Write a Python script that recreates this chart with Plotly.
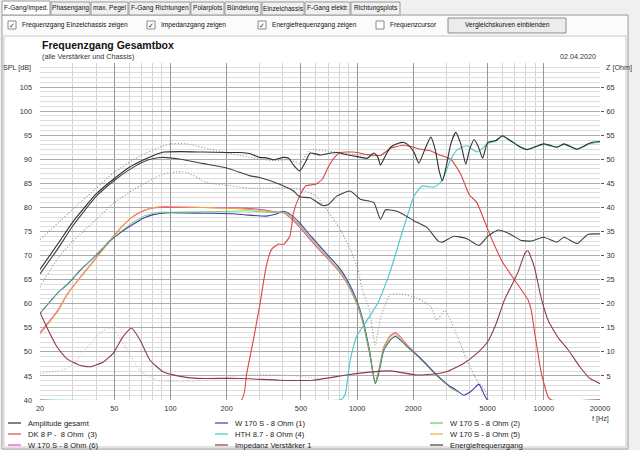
import math
import plotly.graph_objects as go

# ---------------- data ----------------
AMP_F = [20, 25, 30, 40, 50, 60, 70, 80, 92, 113, 150, 200, 236, 265, 300, 326, 356, 403, 430, 456,
         492, 530, 560, 634, 700, 780, 870, 959, 1050, 1132, 1228, 1290, 1333, 1420, 1510, 1650, 1781, 1900, 2020, 2140,
         2330, 2482, 2620, 2750, 2866, 3000, 3175, 3376, 3590, 3820, 4000, 4233, 4470, 4700, 5000, 5540, 6000, 6650, 7500, 8160,
         9000, 10000, 11000, 11800, 12800, 14000, 15100, 16200, 17200, 18500, 20000]
AMP_DB = [67.1, 72.5, 77.0, 82.8, 86.0, 88.3, 89.7, 90.7, 91.5, 91.6, 91.5, 91.4, 91.4, 91.2, 90.4, 90.3, 89.9, 90.4, 90.2, 88.8,
          87.6, 89.5, 91.3, 90.9, 91.2, 91.4, 91.0, 90.7, 90.4, 90.2, 91.3, 90.5, 88.8, 90.8, 92.5, 93.3, 93.5, 92.8, 91.4, 89.2,
          92.5, 94.6, 92.0, 87.6, 85.5, 88.5, 93.2, 95.6, 93.2, 89.0, 92.0, 94.1, 92.5, 90.2, 93.5, 93.9, 94.9, 93.8, 92.5, 92.0,
          92.6, 93.2, 92.8, 92.5, 93.2, 92.6, 92.1, 92.6, 93.2, 93.6, 93.7]

EN_F = [20, 25, 30, 40, 50, 60, 70, 80, 92, 113, 150, 200, 265, 300, 385, 456, 492, 560, 652, 700,
        780, 918, 1040, 1228, 1333, 1420, 1600, 1781, 2020, 2370, 2720, 2866, 3300, 3870, 4490, 5000, 5700, 6650, 7500, 8500,
        10000, 11800, 12800, 15100, 17200, 20000]
EN_DB = [66.2, 71.5, 76.2, 82.3, 85.6, 87.8, 89.3, 90.1, 90.4, 90.0, 89.1, 88.2, 86.6, 86.2, 84.8, 83.4, 82.2, 82.0, 80.4, 80.6,
         82.4, 83.4, 81.7, 81.0, 77.5, 79.5, 79.3, 78.5, 77.2, 75.8, 73.0, 72.8, 74.0, 73.5, 72.1, 74.0, 75.3, 74.4, 73.2, 73.0,
         73.8, 72.8, 73.8, 72.5, 74.4, 74.5]

HTH_F = [20, 800, 835, 864, 890, 918, 993, 1132, 1290, 1450, 1550, 1710, 1850, 2020, 2240, 2400, 2560, 2720, 2866, 3000,
         3175, 3445, 3870, 4380, 4700, 5000, 5540, 6000, 6650, 7500, 8160, 9000, 10000, 11800, 12800, 15100, 17200, 20000]
HTH_DB = [40, 40, 40.3, 41.3, 44.5, 48.3, 53.2, 56.6, 60.1, 65.0, 68.3, 73.8, 78.0, 82.4, 84.5, 84.3, 84.2, 84.8, 85.8, 87.6,
          90.0, 92.0, 92.8, 91.5, 92.3, 93.3, 93.8, 94.8, 93.9, 92.6, 92.1, 92.6, 93.1, 92.5, 93.1, 92.1, 93.1, 93.6]

DK_F = [20, 240, 256, 278, 300, 326, 348, 380, 403, 436, 456, 492, 532, 600, 652, 705, 760, 813, 959, 1132,
        1333, 1510, 1781, 2193, 2482, 2720, 3175, 3590, 3980, 4380, 4850, 5360, 6040, 7250, 8230, 8560, 8940, 9710, 10560, 11000,
        20000]
DK_DB = [40, 40, 45.5, 52.5, 59.4, 67.8, 71.3, 72.4, 72.3, 74.0, 78.9, 82.4, 84.5, 84.8, 85.9, 88.6, 90.5, 91.4, 91.5, 91.0,
         90.8, 92.3, 92.9, 92.1, 91.7, 91.0, 90.0, 86.9, 82.7, 81.0, 76.8, 72.7, 68.5, 64.0, 60.8, 58.7, 53.9, 45.5, 40.6, 40,
         40]

W1_F = [20, 25, 28, 33, 38.6, 47.3, 55, 63, 72, 81, 90, 100, 150, 215, 260, 326, 365, 403, 440, 492,
        560, 600, 700, 800, 877, 993, 1074, 1163, 1250, 1305, 1390, 1510, 1610, 1855, 2193, 2664, 3175, 3300, 3720, 4000,
        4230, 4490, 4770, 5000, 20000]
W1_DB = [58.0, 62.3, 64.0, 67.0, 69.5, 73.0, 75.0, 76.5, 77.8, 78.5, 78.8, 78.9, 78.8, 78.7, 78.4, 78.2, 78.6, 79.2, 78.5, 76.8,
         74.2, 72.9, 70.0, 67.5, 65.2, 60.8, 56.6, 50.4, 43.4, 45.5, 50.4, 52.5, 53.2, 51.1, 48.6, 45.2, 42.7, 42.4, 41.0, 41.6,
         42.4, 43.3, 41.3, 40, 40]

W2_F = [20, 25, 28, 33, 38.6, 47.3, 55, 63, 72, 81, 90, 100, 150, 215, 260, 326, 365, 403, 440, 492,
        560, 600, 700, 800, 877, 993, 1074, 1163, 1250, 1305, 1390, 1510, 1610, 1855, 2193, 2664, 3175, 3500]
W2_DB = [58.0, 62.3, 64.0, 67.0, 69.5, 73.0, 75.2, 76.9, 78.2, 78.8, 79.0, 79.0, 79.1, 79.2, 79.3, 79.0, 78.9, 79.0, 78.2, 76.4,
         73.8, 72.5, 69.6, 67.1, 64.8, 60.5, 56.4, 50.2, 43.5, 45.8, 50.6, 52.7, 53.4, 51.0, 48.4, 45.0, 42.5, 41.6]

W5_F = [20, 25, 28, 33, 38.6, 47.3, 55, 63, 72, 81, 90, 100, 150, 215, 300, 365, 403, 440, 492, 560,
        600, 700, 800, 877, 993, 1074, 1163, 1250, 1305, 1390, 1510, 1610, 1855, 2193, 2664, 3175, 3500]
W5_DB = [53.7, 58.5, 61.9, 65.5, 68.7, 73.0, 76.0, 78.2, 79.4, 80.0, 80.2, 80.2, 80.0, 79.8, 79.4, 79.0, 78.9, 78.0, 76.2, 73.6,
         72.3, 69.4, 66.9, 64.6, 60.3, 56.2, 50.0, 43.6, 46.0, 50.9, 53.2, 53.8, 51.3, 48.5, 45.1, 42.6, 41.7]
W6_F = W5_F
W6_DB = [54.0, 58.7, 62.0, 65.6, 68.8, 73.1, 76.0, 78.1, 79.3, 79.9, 80.0, 80.0, 80.0, 79.9, 79.6, 79.1, 78.9, 77.8, 75.9, 73.3,
         72.0, 69.2, 66.7, 64.4, 60.1, 56.0, 49.9, 43.6, 46.0, 51.0, 53.4, 54.0, 51.4, 48.6, 45.2, 42.6, 41.7]

IMP_F = [20, 21.7, 24.6, 27.8, 32.7, 37.1, 43.7, 49.3, 55.8, 61.9, 68.6, 77.6, 91.8, 112.8, 138, 208, 265, 385, 580, 877,
         1163, 1510, 2085, 2720, 3000, 3720, 4380, 5000, 5560, 6160, 7250, 7950, 8230, 8560, 8920, 9710, 10560, 12000, 13400, 15600,
         17500, 20000]
IMP_Z = [18.2, 15.2, 11.1, 8.6, 7.2, 6.9, 7.9, 9.7, 13.2, 14.9, 12.5, 8.3, 5.8, 4.9, 4.5, 4.5, 4.4, 4.1, 4.1, 5.2,
         5.8, 6.05, 5.2, 5.5, 5.85, 7.6, 9.7, 12.1, 15.9, 20.8, 26.4, 30.6, 31.0, 29.5, 27.5, 21.0, 16.5, 12.8, 10.6, 6.9,
         4.6, 3.4]

# comparison curves (dotted)
D1_F = [20, 30, 40, 50, 68.6, 90, 100, 122, 176, 265, 356, 430, 492, 530, 560, 652, 813, 959, 1132, 1250]
D1_DB = [73.3, 79.6, 84.0, 87.3, 90.7, 92.7, 93.2, 93.2, 91.8, 90.4, 89.7, 89.9, 89.2, 90.8, 92.0, 91.8, 91.4, 91.0, 90.8, 90.6]
D2_F = [20, 25, 30, 40, 50, 68.6, 90, 100, 122, 156, 208, 265, 400, 492, 600, 686, 813, 918, 1010, 1074,
        1163, 1250, 1340, 1510, 1710, 2085, 2482, 2664, 2960, 3445, 3870, 4380, 4850, 5000]
D2_DB = [63.5, 69.5, 73.0, 77.5, 81.0, 84.5, 86.8, 87.3, 87.3, 85.2, 84.5, 84.0, 84.0, 83.8, 82.4, 79.6, 75.4, 71.3, 67.1, 62.5,
         58.7, 51.4, 57.3, 61.9, 62.0, 61.2, 59.4, 56.6, 58.6, 53.2, 48.3, 44.1, 42.0, 40.5]
D3_F = [20, 27.8, 32.7, 40.3, 45.5, 49.3, 58.5, 68.6, 84.2, 113, 156, 208, 265, 400, 634]
D3_DB = [45.5, 46.5, 49.0, 53.2, 54.9, 54.8, 50.4, 46.2, 44.1, 43.8, 44.1, 44.8, 45.4, 45.2, 44.5]

X_TICKS = [20, 50, 100, 200, 500, 1000, 2000, 5000, 10000, 20000]
X_MINOR = [30, 40, 60, 70, 80, 90, 300, 400, 600, 700, 800, 900, 3000, 4000, 6000, 7000, 8000, 9000]
SPL_TICKS = list(range(40, 106, 5))
Z_TICKS = list(range(5, 66, 5))

LEGEND_NAMES = ["Amplitude gesamt", "W 170 S - 8 Ohm (1)", "W 170 S - 8 Ohm (2)",
                "DK 8 P -  8 Ohm  (3)", "HTH 8.7 - 8 Ohm (4)", "W 170 S - 8 Ohm (5)",
                "W 170 S - 8 Ohm (6)", "Impedanz Verstärker 1", "Energiefrequenzgang"]
LEGEND_COLORS = ["#2e2e2e", "#3c3cb0", "#5ad25a", "#dc4646", "#46c8c8", "#f0aa3c",
                 "#e646d2", "#8c3c4a", "#404040"]

TABS = ["F-Gang/Imped.", "Phasengang", "max. Pegel", "F-Gang Richtungen", "Polarplots",
        "Bündelung", "Einzelchassis", "F-Gang elektr.", "Richtungsplots"]
TAB_EDGES = [2, 51, 91, 129, 191, 225, 262, 305, 351, 401]
CHECKS = [("Frequenzgang Einzelchassis zeigen", True), ("Impedanzgang zeigen", True),
          ("Energiefrequenzgang zeigen", True), ("Frequenzcursor", False)]
CHECK_X = [8, 147, 258, 376]

# ---------------- layout helpers ----------------
W, H = 640, 450
ML, MR, MT, MB = 40, 40, 63, 50
PW, PH = W - ML - MR, H - MT - MB
FONT = "Liberation Sans"


def xp(px):
    return (px - ML) / PW


def yp(py):
    return (H - MB - py) / PH


annotations = []
shapes = []


def text(px, py, s, size=8, anchor="left", color="#111111", bold=False):
    annotations.append(dict(x=xp(px), y=yp(py), xref="paper", yref="paper",
                            text=("<b>%s</b>" % s) if bold else s, showarrow=False,
                            xanchor=anchor, yanchor="middle",
                            font=dict(size=size, color=color, family=FONT)))


def rect(x0, y0, x1, y1, fill, line="#a0a0a0", width=1, layer="below"):
    shapes.append(dict(type="rect", xref="paper", yref="paper",
                       x0=xp(x0), x1=xp(x1), y0=yp(y1), y1=yp(y0),
                       fillcolor=fill, line=dict(color=line, width=width), layer=layer))


def hline(x0, x1, py, color, width=1):
    shapes.append(dict(type="line", xref="paper", yref="paper",
                       x0=xp(x0), x1=xp(x1), y0=yp(py), y1=yp(py),
                       line=dict(color=color, width=width), layer="above"))


# window frame
rect(2, 15, 628, 449, "#fbfbfb", "#9a9a9a")
rect(4, 36, 626, 447, "#ffffff", "#c8c8c8")

# tabs
for i, name in enumerate(TABS):
    x0, x1 = TAB_EDGES[i], TAB_EDGES[i + 1] - 1
    rect(x0, 1 if i == 0 else 2, x1, 15, "#ffffff" if i == 0 else "#f0f0f0", "#9a9a9a")
    text((x0 + x1) / 2, 8.5, name, size=6.6, anchor="center")

# checkboxes
for (label, checked), cx in zip(CHECKS, CHECK_X):
    rect(cx, 21, cx + 8, 29, "#ffffff", "#8a8a8a", layer="above")
    if checked:
        text(cx + 4, 25, "✓", size=7, anchor="center", color="#2a2a6a")
    text(cx + 12, 25.5, label, size=6.6)
# button
rect(448, 18, 566, 33, "#ececec", "#8a8a8a", layer="above")
text(507, 25.5, "Vergleichskurven einblenden", size=6.6, anchor="center")

# titles
text(40, 45, "Frequenzgang Gesamtbox", size=10.5, bold=True)
text(40, 56, "(alle Verstärker und Chassis)", size=7.2, color="#333333")
text(598, 56.5, "02.04.2020", size=7.2, anchor="right", color="#333333")
text(33, 68, "SPL [dB]", size=7.2, anchor="right", color="#333333")
text(604, 68, "Z [Ohm]", size=7.2, color="#333333")
text(590, 418, "f [Hz]", size=7.2, color="#333333")

# legend (3 columns, row-major order as in the reference)
LEG_X = [8, 215, 430]
LEG_Y = [423, 434, 445]
for i, (name, col) in enumerate(zip(LEGEND_NAMES, LEGEND_COLORS)):
    r, c = divmod(i, 3)
    hline(LEG_X[c], LEG_X[c] + 13, LEG_Y[r], col, 1.2)
    text(LEG_X[c] + 18, LEG_Y[r] + 0.5, name, size=7.6, color="#222222")

# ---------------- traces ----------------
fig = go.Figure()


def add(xs, ys, color, dash="solid", axis="y", width=1.1):
    fig.add_trace(go.Scatter(x=xs, y=ys, mode="lines", yaxis=axis, showlegend=False,
                             hoverinfo="skip", line=dict(color=color, width=width, dash=dash,
                                                         shape="spline", smoothing=0.5)))


DOTS = "1px,2px"
add(D3_F, D3_DB, "#cdbda3", DOTS)
add(D2_F, D2_DB, "#909090", DOTS)
add(D1_F, D1_DB, "#909090", DOTS)
add(W6_F, W6_DB, LEGEND_COLORS[6])
add(W5_F, W5_DB, LEGEND_COLORS[5])
add(W1_F, W1_DB, LEGEND_COLORS[1])
add(W2_F, W2_DB, LEGEND_COLORS[2], width=0.9)
add(DK_F, DK_DB, LEGEND_COLORS[3])
add(HTH_F, HTH_DB, LEGEND_COLORS[4])
add(IMP_F, IMP_Z, LEGEND_COLORS[7], axis="y2")
add(EN_F, EN_DB, LEGEND_COLORS[8])
add(AMP_F, AMP_DB, LEGEND_COLORS[0])

tickfont = dict(size=7.4, color="#333333", family=FONT)
fig.update_layout(
    width=W, height=H, margin=dict(l=ML, r=MR, t=MT, b=MB, pad=0),
    paper_bgcolor="#f0f0f0", plot_bgcolor="#ffffff", showlegend=False,
    hovermode=False, dragmode=False,
    xaxis=dict(type="log", range=[math.log10(20), math.log10(20000)],
               tickvals=X_TICKS, ticktext=[str(v) for v in X_TICKS], tickfont=tickfont,
               showgrid=True, gridcolor="#969696", gridwidth=1, zeroline=False,
               showline=False, ticks="", ticklabelstandoff=3,
               minor=dict(tickvals=X_MINOR, showgrid=True, gridcolor="#d4d4d4", gridwidth=1, ticks="")),
    yaxis=dict(range=[40, 110], tickvals=SPL_TICKS, tickfont=tickfont,
               showgrid=True, gridcolor="#acacac", gridwidth=1, zeroline=False,
               showline=False, ticks="", ticklabelstandoff=7,
               minor=dict(tick0=40, dtick=1, showgrid=True, gridcolor="#dedede", gridwidth=1, ticks="")),
    yaxis2=dict(range=[0, 70], overlaying="y", side="right", tickvals=Z_TICKS, tickfont=tickfont,
                showgrid=False, zeroline=False, showline=False, ticks="outside", ticklen=3,
                tickcolor="#555555", ticklabelstandoff=1),
    annotations=annotations, shapes=shapes,
)

fig.write_html("out.html", config={"displayModeBar": False, "staticPlot": True},
               post_script="document.body.style.margin='0px';document.body.style.overflow='hidden';")
